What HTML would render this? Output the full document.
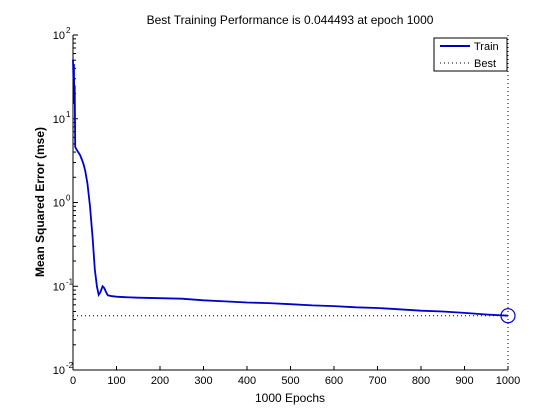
<!DOCTYPE html>
<html><head><meta charset="utf-8"><style>
body{margin:0;background:#fff;}
svg{display:block;font-family:"Liberation Sans",Arial,sans-serif;}
</style></head><body>
<svg id="chart" width="560" height="420" xmlns="http://www.w3.org/2000/svg">
<rect width="560" height="420" fill="#fff"/>
<g id="axes"></g>
<text x="290" y="24" font-size="12" text-anchor="middle">Best Training Performance is 0.044493 at epoch 1000</text>
<text x="290" y="402" font-size="12" text-anchor="middle">1000 Epochs</text>
<text x="0" y="0" font-size="12" font-weight="bold" text-anchor="middle" transform="translate(44,202) rotate(-90)">Mean Squared Error  (mse)</text>
<g id="legend">
<rect x="434" y="38" width="73" height="33" fill="#fff" stroke="#000" stroke-width="1"/>
<line x1="440" y1="46" x2="470" y2="46" stroke="#0000bb" stroke-width="2"/>
<text x="474" y="50" font-size="11">Train</text>
<line x1="440" y1="63" x2="470" y2="63" stroke="#000" stroke-width="1" stroke-dasharray="1,3"/>
<text x="474" y="67" font-size="11">Best</text>
</g>
</svg>
<script>
const epochs=[0,1,2,3,4,5,8,12,16,20,24,28,33,39,45,50,55,59,63,68,72,76,80,90,100,120,150,200,250,300,350,400,450,500,550,600,650,700,750,800,850,900,950,1000];
const trainMse=[51,30,45,15,25,4.6,4.3,4.0,3.7,3.3,2.9,2.4,1.7,0.9,0.38,0.16,0.1,0.079,0.085,0.1,0.095,0.085,0.078,0.076,0.075,0.074,0.073,0.072,0.071,0.068,0.066,0.064,0.063,0.061,0.059,0.058,0.056,0.055,0.053,0.051,0.05,0.048,0.046,0.0445];
const bestEpoch=1000;
const bestMse=0.044493;
const xTicks=[0,100,200,300,400,500,600,700,800,900,1000];
const yTickExps=[-2,-1,0,1,2];

const X0=73,X1=508,Y0=370,Y1=35;
const xs=v=>X0+(v/1000)*(X1-X0);
const ys=v=>Y0-(Math.log10(v)+2)/4*(Y0-Y1);
const NS="http://www.w3.org/2000/svg";
const g=document.getElementById('axes');
function mk(t,a){const e=document.createElementNS(NS,t);for(const k in a)e.setAttribute(k,a[k]);g.appendChild(e);return e;}

let e=mk('line',{x1:X0,y1:Y1,x2:X0,y2:Y0,stroke:'#000'});


e=mk('line',{x1:X0,y1:Y0,x2:X1,y2:Y0,stroke:'#000'});



xTicks.forEach(t=>{
 const x=xs(t);
 mk('line',{x1:x,y1:Y0,x2:x,y2:Y0-4,stroke:'#000'});
 const tx=mk('text',{x:x,y:Y0+14,'font-size':11,'text-anchor':'middle'});
 tx.textContent=t;
 
 
});
yTickExps.forEach(p=>{
 const y=ys(Math.pow(10,p));
 mk('line',{x1:X0,y1:y,x2:X0+5,y2:y,stroke:'#000'});
 if(p<2){for(let m=2;m<10;m++){const yy=ys(m*Math.pow(10,p));mk('line',{x1:X0,y1:yy,x2:X0+3,y2:yy,stroke:'#000'});}}
 const tx=mk('text',{x:X0-8,y:y+4,'font-size':11,'text-anchor':'end'});
 tx.textContent='10';
 
 
 const sp=mk('text',{x:X0-7,y:y-2,'font-size':8,'text-anchor':'start'});
 sp.textContent=String(p);
 
 
});

e=mk('line',{x1:X0,y1:ys(bestMse),x2:X1,y2:ys(bestMse),stroke:'#000','stroke-dasharray':'1,3'});


e=mk('line',{x1:xs(bestEpoch),y1:Y1,x2:xs(bestEpoch),y2:Y0,stroke:'#000','stroke-dasharray':'1,3'});



const d=epochs.map((v,i)=>(i?'L':'M')+xs(v).toFixed(1)+','+ys(trainMse[i]).toFixed(1)).join('');
e=mk('path',{d:d,fill:'none',stroke:'#0000cc','stroke-width':1.8});


e=mk('circle',{cx:xs(bestEpoch),cy:ys(bestMse),r:7,fill:'none',stroke:'#0000cc','stroke-width':1.2});


</script>
</body></html>
